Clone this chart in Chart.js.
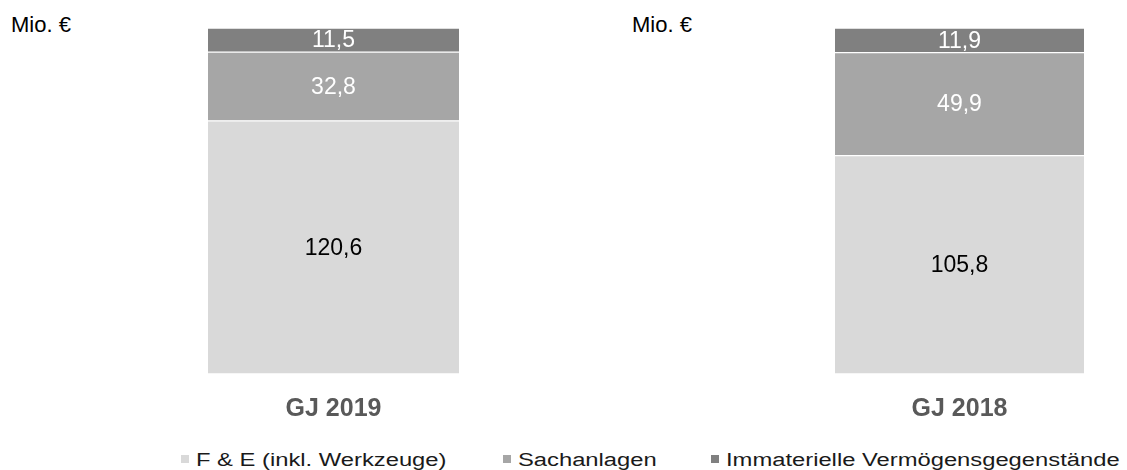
<!DOCTYPE html>
<html>
<head>
<meta charset="utf-8">
<script src="https://cdn.jsdelivr.net/npm/chart.js@4"></script>
<style>
  body { margin: 0; background: #fff; font-family: "Liberation Sans", Arial, sans-serif; }
  #wrap { position: relative; width: 1127px; height: 470px; overflow: hidden; }
  .unit { position: absolute; top: 14px; font-size: 22px; line-height: 22px; color: #000; }
  .box { position: absolute; }
  .leg { position: absolute; top: 451px; font-size: 18px; line-height: 18px; color: #1a1a1a; white-space: nowrap; }
  .leg span.sq { position: absolute; width: 8px; height: 8px; top: 4px; }
  .leg span.tx { position: absolute; left: 15px; top: 0; transform: scaleX(1.32); transform-origin: left top; }
</style>
</head>
<body>
<div id="wrap">
  <div class="unit" style="left:11px">Mio. €</div>
  <div class="unit" style="left:632px">Mio. €</div>
  <div class="box" style="left:0;top:0;width:563px;height:444px"><canvas id="chart2019"></canvas></div>
  <div class="box" style="left:563px;top:0;width:564px;height:444px"><canvas id="chart2018"></canvas></div>
  <div id="legend"></div>
</div>
<script>
// data
const years = ['GJ 2019', 'GJ 2018'];
const seriesNames = ['F & E (inkl. Werkzeuge)', 'Sachanlagen', 'Immaterielle Vermögensgegenstände'];
const fue = [120.6, 105.8];
const sachanlagen = [32.8, 49.9];
const immaterielle = [11.5, 11.9];

const seriesValues = [fue, sachanlagen, immaterielle];
const colors = ['#d9d9d9', '#a6a6a6', '#808080'];
const labelColors = ['#000000', '#ffffff', '#ffffff'];

// value labels centred in each segment
const segmentLabels = {
  id: 'segmentLabels',
  afterDatasetsDraw(chart) {
    const ctx = chart.ctx;
    ctx.save();
    ctx.font = '23px "Liberation Sans", Arial, sans-serif';
    ctx.textAlign = 'center';
    ctx.textBaseline = 'middle';
    chart.data.datasets.forEach((ds, i) => {
      chart.getDatasetMeta(i).data.forEach((bar, j) => {
        ctx.fillStyle = labelColors[i];
        ctx.fillText(ds.data[j].toFixed(1).replace('.', ','), bar.x, (bar.y + bar.base) / 2 + 1);
      });
    });
    ctx.restore();
  }
};

function makeChart(canvasId, idx, pad) {
  const total = seriesValues.reduce((s, arr) => s + arr[idx], 0);
  return new Chart(document.getElementById(canvasId), {
    type: 'bar',
    data: {
      labels: [years[idx]],
      datasets: seriesValues.map((arr, i) => ({
        label: seriesNames[i],
        data: [arr[idx]],
        backgroundColor: colors[i],
        borderColor: '#ffffff',
        borderWidth: { top: 1, bottom: 1, left: 0, right: 0 },
        borderSkipped: false,
        barPercentage: 1,
        categoryPercentage: 1
      }))
    },
    options: {
      responsive: true,
      maintainAspectRatio: false,
      animation: false,
      layout: { padding: pad },
      plugins: { legend: { display: false }, tooltip: { enabled: false } },
      scales: {
        x: {
          stacked: true,
          grid: { display: false, drawTicks: false },
          border: { display: false },
          ticks: {
            padding: 20,
            color: '#595959',
            font: { family: '"Liberation Sans", Arial, sans-serif', size: 25, weight: 'bold' }
          }
        },
        y: { stacked: true, display: false, min: 0, max: total }
      }
    },
    plugins: [segmentLabels]
  });
}

makeChart('chart2019', 0, { left: 208, right: 104, top: 28, bottom: 0 });
makeChart('chart2018', 1, { left: 272, right: 43, top: 28, bottom: 0 });

// legend
const legendPos = [181, 503, 711];
const legend = document.getElementById('legend');
seriesNames.forEach((name, i) => {
  const item = document.createElement('div');
  item.className = 'leg';
  item.style.left = legendPos[i] + 'px';
  item.innerHTML = '<span class="sq" style="background:' + colors[i] + '"></span><span class="tx"></span>';
  item.querySelector('.tx').textContent = name;
  legend.appendChild(item);
});
</script>
</body>
</html>
